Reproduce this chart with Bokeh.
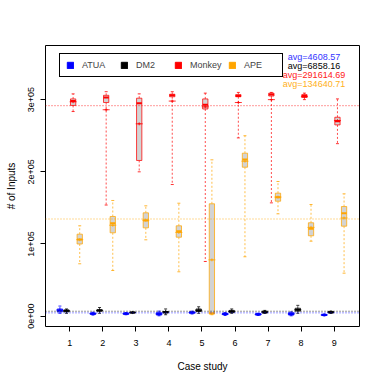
from bokeh.plotting import figure
from bokeh.models import Legend, LegendItem, Span, Label, FixedTicker, ColumnDataSource
from bokeh.embed import file_html
from bokeh.resources import INLINE

cases = [1, 2, 3, 4, 5, 6, 7, 8, 9]
x_labels = ["1", "2", "3", "4", "5", "6", "7", "8", "9"]
y_ticks = [0, 100000, 200000, 300000]
y_tick_labels = ["0e+00", "1e+05", "2e+05", "3e+05"]

series_names = ["ATUA", "DM2", "Monkey", "APE"]
series_colors = ["#0000FF", "#000000", "#FF0000", "#FFA500"]
series_offsets = [-0.3, -0.1, 0.1, 0.3]
averages = [4608.57, 6858.16, 291614.69, 134640.71]

# five-number summaries + means per case study
atua_low = [4000, 1500, 2000, 500, 3000, 1000, 1000, 500, 500]
atua_q1 = [6000, 2500, 2500, 1500, 4000, 2000, 1500, 1500, 1000]
atua_med = [8000, 3500, 3500, 3000, 5000, 3000, 2500, 3000, 1500]
atua_q3 = [10000, 4500, 4500, 5000, 6000, 4000, 3500, 5000, 2500]
atua_high = [14000, 5500, 5000, 7000, 7000, 5000, 4000, 6000, 3000]
atua_mean = [8500, 3500, 3500, 3200, 5000, 2800, 2500, 3200, 1700]

dm2_low = [4000, 4000, 4500, 2000, 4000, 4000, 4000, 4000, 4000]
dm2_q1 = [6000, 7000, 4500, 4500, 6500, 5000, 4500, 7000, 4500]
dm2_med = [7500, 8000, 5000, 5500, 8000, 6500, 5500, 9000, 5500]
dm2_q3 = [8500, 9000, 5500, 6500, 10000, 8000, 7000, 11000, 6500]
dm2_high = [10000, 12000, 5500, 10000, 13000, 10000, 8000, 15000, 7000]
dm2_mean = [7300, 8000, 5000, 5800, 8200, 6600, 5700, 9000, 5500]

monkey_low = [283500, 154000, 200000, 182400, 75800, 247000, 157000, 300000, 239000]
monkey_q1 = [292000, 296000, 215700, 304000, 287000, 304000, 305000, 303000, 265000]
monkey_med = [298000, 303000, 295000, 306000, 293000, 305000, 307000, 305000, 270000]
monkey_q3 = [301000, 306000, 302000, 307500, 301000, 307000, 309000, 307000, 275600]
monkey_high = [308000, 311000, 308000, 311000, 309000, 310000, 310000, 309000, 301000]
monkey_mean = [297000, 286000, 266500, 298000, 290000, 296000, 300000, 304000, 271000]

ape_low = [72600, 63300, 105800, 61500, 2000, 82300, 141800, 103900, 59600]
ape_q1 = [100000, 115500, 122400, 109400, 3000, 206400, 159300, 111400, 124700]
ape_med = [106200, 128800, 132500, 117700, 4000, 217000, 164800, 121000, 142700]
ape_q3 = [113600, 138100, 143200, 125200, 155700, 225800, 170400, 129400, 151900]
ape_high = [125200, 160300, 152900, 156500, 216600, 250000, 186600, 154700, 169500]
ape_mean = [106000, 126000, 133000, 116000, 78000, 214700, 165000, 123000, 136000]

stats = [
    (atua_low, atua_q1, atua_med, atua_q3, atua_high, atua_mean),
    (dm2_low, dm2_q1, dm2_med, dm2_q3, dm2_high, dm2_mean),
    (monkey_low, monkey_q1, monkey_med, monkey_q3, monkey_high, monkey_mean),
    (ape_low, ape_q1, ape_med, ape_q3, ape_high, ape_mean),
]

FONT = "Liberation Sans"
box_w = 0.16
staple_w = 0.09

p = figure(width=374, height=374, x_range=(0.264, 9.767), y_range=(-14300, 375000),
           output_backend="svg", toolbar_location=None,
           min_border_left=45, min_border_right=15, min_border_top=45, min_border_bottom=48)
p.background_fill_color = "white"
p.border_fill_color = "white"
p.outline_line_color = "black"
p.outline_line_width = 1
p.xgrid.visible = False
p.ygrid.visible = False

legend_renderers = []
for (low, q1, med, q3, high, mean), col, off in zip(stats, series_colors, series_offsets):
    xs = [c + off for c in cases]
    src = ColumnDataSource(dict(x=xs, x0=[x - box_w / 2 for x in xs], x1=[x + box_w / 2 for x in xs],
                                s0=[x - staple_w / 2 for x in xs], s1=[x + staple_w / 2 for x in xs],
                                low=low, q1=q1, med=med, q3=q3, high=high, mean=mean))
    # whiskers
    p.segment(x0="x", y0="q3", x1="x", y1="high", source=src, line_color=col, line_alpha=0.7,
              line_dash="2 2", line_width=1)
    p.segment(x0="x", y0="q1", x1="x", y1="low", source=src, line_color=col, line_alpha=0.7,
              line_dash="2 2", line_width=1)
    # staples
    p.segment(x0="s0", y0="high", x1="s1", y1="high", source=src, line_color=col, line_alpha=0.8, line_width=1)
    p.segment(x0="s0", y0="low", x1="s1", y1="low", source=src, line_color=col, line_alpha=0.8, line_width=1)
    # boxes
    p.quad(left="x0", right="x1", bottom="q1", top="q3", source=src, fill_color="#d3d3d3",
           fill_alpha=1, line_color=col, line_alpha=0.75, line_width=1)
    # medians
    p.segment(x0="x0", y0="med", x1="x1", y1="med", source=src, line_color=col, line_width=2)
    # means
    p.scatter(x="x", y="mean", source=src, marker="dash", size=7, line_color=col, line_alpha=0.8, line_width=1)
    p.scatter(x="x", y="mean", source=src, marker="cross", size=3, line_color=col, line_alpha=0.8, line_width=1)
    # dummy legend glyph
    r = p.quad(left=[-5], right=[-4.9], bottom=[0], top=[1], fill_color=col, line_color=col)
    legend_renderers.append(r)

for avg, col in zip(averages, series_colors):
    p.add_layout(Span(location=avg, dimension="width", line_color=col, line_dash="1 2",
                      line_width=1, line_alpha=0.8))

legend = Legend(items=[LegendItem(label=n, renderers=[r]) for n, r in zip(series_names, legend_renderers)],
                orientation="horizontal", location=(14, 249), glyph_width=8, glyph_height=8,
                label_width=32, label_height=10, label_standoff=8, spacing=6, padding=6, margin=0,
                border_line_color="black", border_line_width=1, border_line_alpha=1,
                label_text_font_size="9px", label_text_font=FONT, background_fill_alpha=1)
p.add_layout(legend, "center")

avg_text_colors = ["#3333FF", "#000000", "#FF2020", "#FFB020"]
for i, (avg, col) in enumerate(zip(averages, avg_text_colors)):
    p.add_layout(Label(x=268.5, y=269.7 - i * 9.0, x_units="screen", y_units="screen",
                       text="avg=%.2f" % avg, text_align="center", text_baseline="middle",
                       text_font_size="9px", text_font=FONT, text_color=col))

p.xaxis.ticker = FixedTicker(ticks=cases)
p.xaxis.major_label_overrides = {c: l for c, l in zip(cases, x_labels)}
p.yaxis.ticker = FixedTicker(ticks=y_ticks)
p.yaxis.major_label_overrides = {t: l for t, l in zip(y_ticks, y_tick_labels)}
p.yaxis.major_label_orientation = "vertical"
for ax in (p.xaxis, p.yaxis):
    ax.axis_line_color = None
    ax.minor_tick_line_color = None
    ax.major_tick_in = 0
    ax.major_tick_out = 5
    ax.major_tick_line_color = "black"
    ax.major_label_text_font = FONT
    ax.major_label_text_font_size = "9px"
    ax.major_label_text_color = "black"
    ax.axis_label_text_font = FONT
    ax.axis_label_text_font_size = "10px"
    ax.axis_label_text_font_style = "normal"
    ax.axis_label_text_color = "black"
p.xaxis.axis_label = "Case study"
p.yaxis.axis_label = "# of Inputs"
p.xaxis.major_label_standoff = 8
p.xaxis.axis_label_standoff = 12
p.yaxis.major_label_standoff = 6
p.yaxis.axis_label_standoff = 9

open("out.html", "w").write(file_html(p, INLINE))
